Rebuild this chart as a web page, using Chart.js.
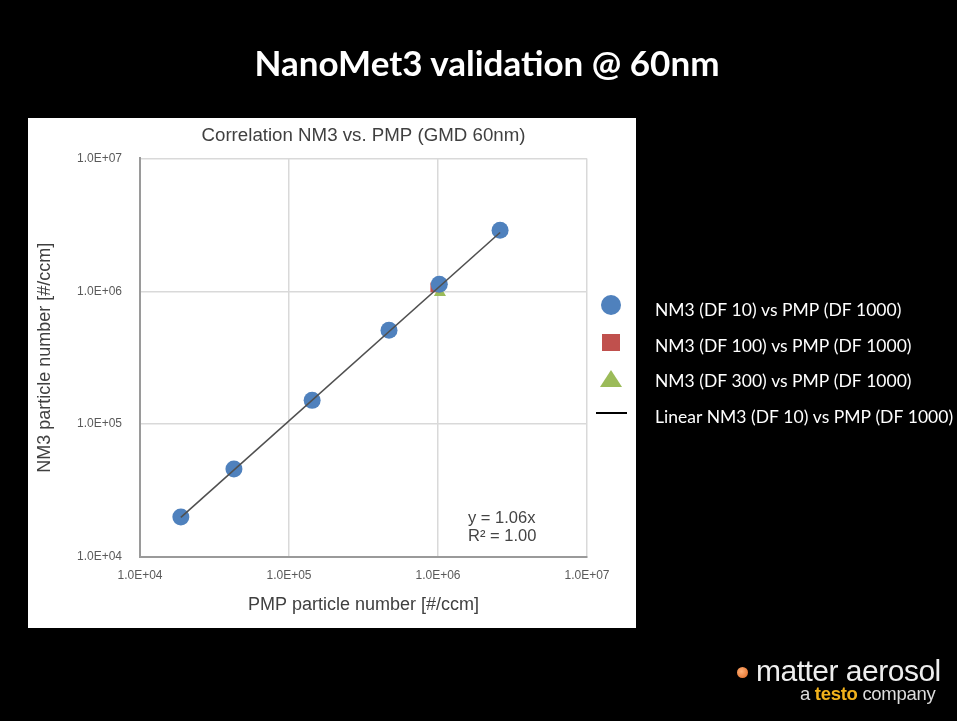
<!DOCTYPE html>
<html>
<head>
<meta charset="utf-8">
<script src="https://cdn.jsdelivr.net/npm/chart.js@4.4.1/dist/chart.umd.min.js"></script>
<style>
  html, body { margin: 0; padding: 0; background: #000; }
  body { width: 957px; height: 721px; position: relative; overflow: hidden; }
  #c { position: absolute; left: 0; top: 0; }
  .title {
    position: absolute; left: 0; width: 974px; top: 41px;
    text-align: center; color: #fff;
    font: bold 35px Lato, "Open Sans", sans-serif;
  }
  .logo { position: absolute; left: 736px; top: 655px; color: #eee; font-family: "Liberation Sans", Arial, sans-serif; }
  .logo .dot {
    position: absolute; left: 1px; top: 12px; width: 11px; height: 11px; border-radius: 50%;
    background: radial-gradient(circle at 40% 40%, #ffb27a, #e0661e);
  }
  .logo .main { position: absolute; left: 20px; top: -1px; font-size: 30px; letter-spacing: -0.5px; white-space: nowrap; }
  .logo .sub { position: absolute; left: 64px; top: 28px; font-size: 18.5px; letter-spacing: -0.3px; white-space: nowrap; color: #ddd; }
  .logo .sub b { color: #f2b21c; }
</style>
</head>
<body>
<canvas id="c" width="957" height="721"></canvas>
<div class="title">NanoMet3 validation @ 60nm</div>
<div class="logo">
  <span class="dot"></span>
  <span class="main">matter aerosol</span>
  <span class="sub">a <b>testo</b> company</span>
</div>
<script>
// values
const pmpDF10 = [1.88e4, 4.27e4, 1.43e5, 4.69e5, 1.02e6, 2.61e6];
const nm3DF10 = [2.0e4, 4.6e4, 1.51e5, 5.1e5, 1.13e6, 2.88e6];
const pmpDF100 = [0.96e6];
const nm3DF100 = [1.07e6];
const pmpDF300 = [1.03e6];
const nm3DF300 = [0.98e6];
const trendX = [1.88e4, 2.61e6];
const trendY = [1.99e4, 2.77e6];

const seriesNames = [
  "NM3 (DF 10) vs PMP (DF 1000)",
  "NM3 (DF 100) vs PMP (DF 1000)",
  "NM3 (DF 300) vs PMP (DF 1000)",
  "Linear NM3 (DF 10) vs PMP (DF 1000)"
];
const tickValues = [1e4, 1e5, 1e6, 1e7];
const tickLabels = ["1.0E+04", "1.0E+05", "1.0E+06", "1.0E+07"];
const equation = ["y = 1.06x", "R\u00b2 = 1.00"];

const toPoints = (xs, ys) => xs.map((x, i) => ({ x: x, y: ys[i] }));

const slideBackground = {
  id: "slideBackground",
  beforeDraw(chart) {
    const ctx = chart.ctx;
    ctx.save();
    ctx.fillStyle = "#000";
    ctx.fillRect(0, 0, chart.width, chart.height);
    ctx.fillStyle = "#fff";
    ctx.fillRect(28, 118, 608, 510);
    ctx.restore();
  }
};

const equationLabel = {
  id: "equationLabel",
  afterDatasetsDraw(chart) {
    const ctx = chart.ctx;
    const a = chart.chartArea;
    ctx.save();
    ctx.fillStyle = "#444";
    ctx.font = "16.5px 'Liberation Sans', Arial, sans-serif";
    ctx.textBaseline = "middle";
    ctx.fillText(equation[0], a.right - 119, a.bottom - 39);
    ctx.fillText(equation[1], a.right - 119, a.bottom - 21);
    ctx.restore();
  }
};

// legend: markers sit on the white panel, text on the black slide
const sideLegend = {
  id: "sideLegend",
  afterDraw(chart) {
    const ctx = chart.ctx;
    const rows = [310, 346, 381, 417];
    ctx.save();
    chart.data.datasets.forEach((ds, i) => {
      const y = rows[i];
      const my = y - 4;
      const mx = 611;
      ctx.fillStyle = ds.backgroundColor;
      if (ds.pointStyle === "circle") {
        ctx.beginPath();
        ctx.arc(mx, my - 1, 10, 0, Math.PI * 2);
        ctx.fill();
      } else if (ds.pointStyle === "rect") {
        ctx.fillRect(mx - 9, my - 8, 18, 17);
      } else if (ds.pointStyle === "triangle") {
        ctx.beginPath();
        ctx.moveTo(mx, my - 7);
        ctx.lineTo(mx + 11, my + 10);
        ctx.lineTo(mx - 11, my + 10);
        ctx.closePath();
        ctx.fill();
      } else {
        ctx.lineWidth = 2;
        ctx.strokeStyle = "#000";
        ctx.beginPath();
        ctx.moveTo(596, my);
        ctx.lineTo(627, my);
        ctx.stroke();
      }
      ctx.fillStyle = "#fff";
      ctx.font = "17.5px Lato, 'Open Sans', sans-serif";
      ctx.textBaseline = "middle";
      ctx.fillText(ds.label, 655, y);
    });
    ctx.restore();
  }
};

const axisFont = { family: "'Liberation Sans', Arial, sans-serif", size: 12 };
const titleFont = { family: "'Liberation Sans', Arial, sans-serif", size: 18 };

const logAxis = (pos, titleText) => ({
  type: "logarithmic",
  position: pos,
  min: tickValues[0],
  max: tickValues[tickValues.length - 1],
  afterBuildTicks: (scale) => {
    scale.ticks = tickValues.map((v) => ({ value: v }));
  },
  afterFit: (scale) => {
    if (pos === "left") scale.width = 112;
    else scale.height = 71;
  },
  grid: { color: "#d9d9d9", lineWidth: 1.5, drawTicks: false },
  border: { color: "#9a9a9a", width: 2 },
  ticks: {
    color: "#5a5a5a",
    font: axisFont,
    padding: pos === "left" ? 18 : 11,
    maxRotation: 0,
    autoSkip: false,
    callback: (v) => tickLabels[tickValues.indexOf(v)]
  },
  title: {
    display: true,
    text: titleText,
    color: "#404040",
    font: titleFont,
    padding: pos === "left" ? { top: 6, bottom: 0 } : { top: 0, bottom: 12 }
  }
});

new Chart(document.getElementById("c"), {
  type: "scatter",
  data: {
    datasets: [
      {
        label: seriesNames[0],
        data: toPoints(pmpDF10, nm3DF10),
        pointStyle: "circle",
        pointRadius: 8.5,
        backgroundColor: "#4f81bd",
        borderColor: "#4f81bd",
        borderWidth: 0,
        order: 1
      },
      {
        label: seriesNames[1],
        data: toPoints(pmpDF100, nm3DF100),
        pointStyle: "rect",
        pointRadius: 7,
        backgroundColor: "#c0504d",
        borderColor: "#c0504d",
        borderWidth: 0,
        order: 2
      },
      {
        label: seriesNames[2],
        data: toPoints(pmpDF300, nm3DF300),
        pointStyle: "triangle",
        pointRadius: 7,
        backgroundColor: "#9bbb59",
        borderColor: "#9bbb59",
        borderWidth: 0,
        order: 3
      },
      {
        label: seriesNames[3],
        data: toPoints(trendX, trendY),
        type: "line",
        showLine: true,
        pointRadius: 0,
        borderColor: "#505050",
        backgroundColor: "#505050",
        borderWidth: 1.6,
        fill: false,
        order: 0
      }
    ]
  },
  options: {
    responsive: false,
    devicePixelRatio: 1,
    animation: false,
    layout: { padding: { left: 28, top: 118, right: 370, bottom: 93 } },
    plugins: {
      legend: { display: false },
      tooltip: { enabled: false },
      title: {
        display: true,
        fullSize: false,
        text: "Correlation NM3 vs. PMP (GMD 60nm)",
        color: "#404040",
        font: { family: "'Liberation Sans', Arial, sans-serif", size: 18.7, weight: "normal", lineHeight: 1.2 },
        padding: { top: 7, bottom: 11 }
      }
    },
    scales: {
      x: logAxis("bottom", "PMP particle number [#/ccm]"),
      y: logAxis("left", "NM3 particle number [#/ccm]")
    }
  },
  plugins: [slideBackground, equationLabel, sideLegend]
});
</script>
</body>
</html>
